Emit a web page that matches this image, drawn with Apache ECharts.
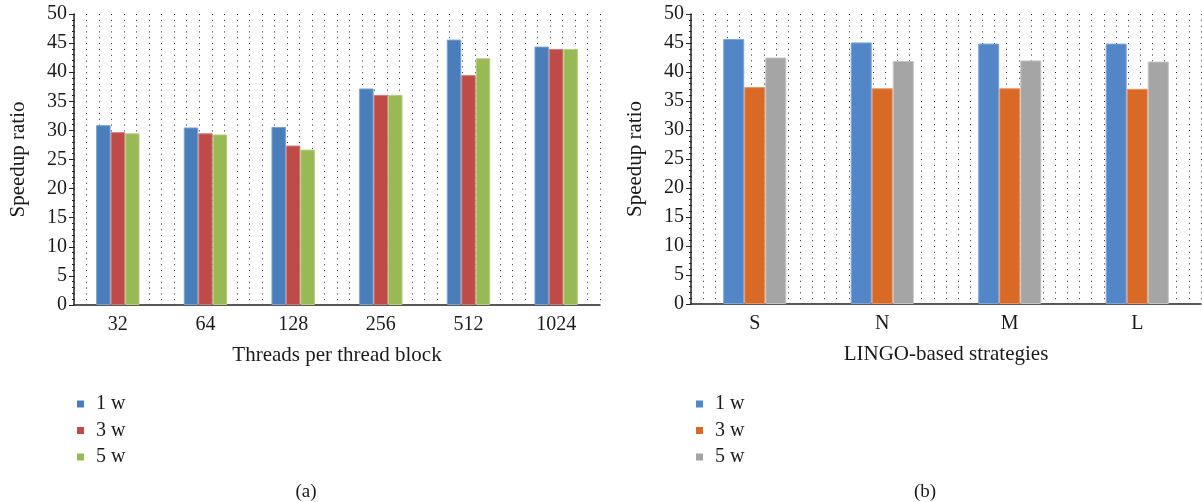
<!DOCTYPE html>
<html>
<head>
<meta charset="utf-8">
<script src="https://cdn.jsdelivr.net/npm/echarts@6/dist/echarts.min.js"></script>
<style>
html,body{margin:0;padding:0;background:#fff;}
#wrap{position:relative;width:1202px;height:502px;}
#ca{position:absolute;left:0;top:0;width:601px;height:502px;}
#cb{position:absolute;left:601px;top:0;width:601px;height:502px;}
</style>
</head>
<body>
<div id="wrap"><div id="ca"></div><div id="cb"></div></div>
<script>
const seriesNames = ['1 w', '3 w', '5 w'];
const yTicks = { min: 0, max: 50, interval: 5 };

const threadCats = ['32', '64', '128', '256', '512', '1024'];
const threads1w = [30.9, 30.5, 30.6, 37.2, 45.6, 44.4];
const threads3w = [29.7, 29.5, 27.4, 36.1, 39.5, 44.0];
const threads5w = [29.5, 29.3, 26.7, 36.1, 42.4, 44.0];

const lingoCats = ['S', 'N', 'M', 'L'];
const lingo1w = [45.7, 45.1, 44.9, 44.9];
const lingo3w = [37.4, 37.2, 37.2, 37.1];
const lingo5w = [42.5, 41.9, 42.0, 41.8];

const FONT = '"Liberation Serif", "DejaVu Serif", serif';
const TXT = '#1a1a1a';

function buildOption(cfg) {
  return {
    animation: false,
    backgroundColor: '#fff',
    textStyle: { fontFamily: FONT },
    grid: { left: cfg.gridLeft, right: cfg.gridRight, top: 14, bottom: cfg.gridBottom, containLabel: false },
    legend: {
      orient: 'vertical',
      left: cfg.legendLeft,
      top: 389,
      icon: 'rect',
      itemWidth: 7,
      itemHeight: 7,
      itemGap: 6.5,
      data: seriesNames,
      itemStyle: { borderWidth: 0 },
      textStyle: { fontFamily: FONT, fontSize: 20, color: TXT, padding: [0, 0, 0, 7] },
      selectedMode: false
    },
    title: {
      text: cfg.panel,
      left: cfg.panelX,
      top: 478,
      textAlign: 'center',
      textStyle: { fontFamily: FONT, fontSize: 19, fontWeight: 'normal', color: TXT }
    },
    xAxis: [
      {
        type: 'category',
        data: cfg.cats,
        name: cfg.xName,
        nameLocation: 'middle',
        nameGap: 40,
        nameTextStyle: { fontFamily: FONT, fontSize: 21, color: TXT },
        axisLine: { show: true, lineStyle: { color: '#222', width: 1.5 } },
        axisTick: { show: false },
        axisLabel: { fontFamily: FONT, fontSize: 20, color: TXT, margin: 10 },
        splitLine: { show: false }
      },
      {
        type: 'value',
        position: 'top',
        min: 0,
        max: 42,
        interval: 1,
        axisLine: { show: false },
        axisTick: { show: false },
        axisLabel: { show: false },
        splitLine: { show: true, lineStyle: { color: '#222', width: 1, type: [1, cfg.dotGap] } }
      }
    ],
    yAxis: {
      type: 'value',
      min: yTicks.min,
      max: yTicks.max,
      interval: yTicks.interval,
      name: 'Speedup ratio',
      nameLocation: 'middle',
      nameGap: 45,
      nameTextStyle: { fontFamily: FONT, fontSize: 21, color: TXT },
      axisLine: { show: true, lineStyle: { color: '#222', width: 1.5 } },
      axisTick: { show: true, inside: false, length: 5, lineStyle: { color: '#222' } },
      minorTick: { show: true, splitNumber: 5, length: 2, lineStyle: { color: '#222' } },
      axisLabel: { fontFamily: FONT, fontSize: 20, color: TXT, margin: 7 },
      splitLine: { show: false }
    },
    series: cfg.values.map((vals, i) => ({
      name: seriesNames[i],
      type: 'bar',
      xAxisIndex: 0,
      data: vals,
      barWidth: '16.5%',
      barGap: '0%',
      itemStyle: { color: cfg.colors[i], borderColor: cfg.borders[i], borderWidth: 1 }
    }))
  };
}

const ca = echarts.init(document.getElementById('ca'), null, { renderer: 'canvas' });
ca.setOption(buildOption({
  gridLeft: 73, gridRight: 1, gridBottom: 197,
  legendLeft: 72, panel: '(a)', panelX: 301,
  cats: threadCats, xName: 'Threads per thread block',
  dotGap: 4.82,
  values: [threads1w, threads3w, threads5w],
  colors: ['#4A7EBB', '#BE4B48', '#98B954'],
  borders: ['#7A9FCF', '#D07C7A', '#B5CD85']
}));

const cb = echarts.init(document.getElementById('cb'), null, { renderer: 'canvas' });
cb.setOption(buildOption({
  gridLeft: 90, gridRight: 1, gridBottom: 198,
  legendLeft: 90, panel: '(b)', panelX: 319,
  cats: lingoCats, xName: 'LINGO-based strategies',
  dotGap: 4.8,
  values: [lingo1w, lingo3w, lingo5w],
  colors: ['#5286C6', '#D86A25', '#A5A5A5'],
  borders: ['#7EA6D8', '#E8946A', '#C4C4C4']
}));
</script>
</body>
</html>
